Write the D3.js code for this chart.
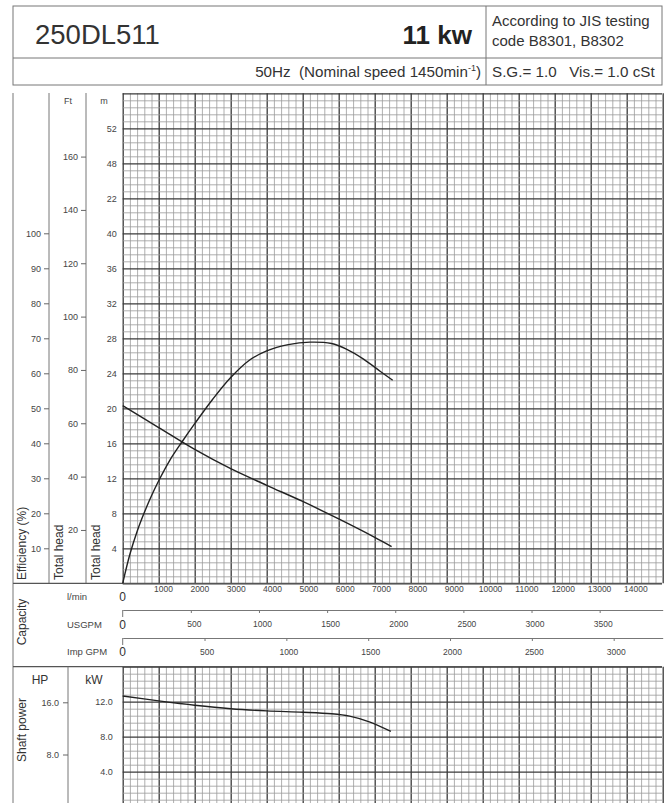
<!DOCTYPE html>
<html><head><meta charset="utf-8">
<script src="https://cdn.jsdelivr.net/npm/d3@7"></script>
<style>
html,body{margin:0;padding:0;background:#fff;}
svg{display:block;font-family:"Liberation Sans",Arial,sans-serif;}
</style></head><body>
<svg id="c" width="669" height="803"></svg>
<script>
// ---- data ----
const headQ   = [0, 1000, 2000, 3000, 4000, 5000, 6000, 7000, 7470];
const headM   = [20.3, 17.8, 15.3, 13.1, 11.2, 9.35, 7.35, 5.25, 4.2];
const effQ    = [0, 200, 400, 600, 800, 1000, 1300, 1640, 2000, 2500, 3000, 3500, 4000, 4600, 5200, 5800, 6200, 6700, 7150, 7500];
const effPct  = [0, 8.3, 14.8, 20.2, 25, 29.3, 35, 40.3, 45.6, 52.6, 58.8, 63.6, 66.4, 68.2, 68.9, 68.5, 67, 64, 60.6, 58];
const powQ    = [0, 1000, 2000, 3000, 4000, 5000, 5800, 6300, 6850, 7450];
const powKW   = [12.65, 12.1, 11.6, 11.2, 10.95, 10.8, 10.62, 10.35, 9.7, 8.6];

const headTicks  = [4, 8, 12, 16, 20, 24, 28, 32, 36, 40, 44, 48, 52];
const headLabels = ["4","8","12","16","20","24","28","32","36","40","22","48","52"];
const effTicks   = [10, 20, 30, 40, 50, 60, 70, 80, 90, 100];
const ftTicks    = [20, 40, 60, 80, 100, 120, 140, 160];
const lminTicks  = [1000,2000,3000,4000,5000,6000,7000,8000,9000,10000,11000,12000,13000,14000];
const usTicks    = [500,1000,1500,2000,2500,3000,3500];
const impTicks   = [500,1000,1500,2000,2500,3000];
const kwTicks    = [4, 8, 12];
const kwLabels   = ["4.0","8.0","12.0"];
const hpTicks    = [8, 16];
const hpLabels   = ["8.0","16.0"];

// unit conversions
const L_PER_USG = 3.78541, L_PER_IMP = 4.54609, M_PER_FT = 0.3048, KW_PER_HP = 0.7457;

// ---- layout ----
const X0 = 122.7, X1 = 662.7, RIGHT = 662;
const MB = 583.3, MT = 93.3;     // main plot bottom/top
const SB = 806.7, ST = 666.7;    // shaft power bottom/top (0..16 kW)
const FRAME_L = 13;

const svg = d3.select("#c");
const x    = d3.scaleLinear().domain([0, 15000]).range([X0, X1]);
const yH   = d3.scaleLinear().domain([0, 56]).range([MB, MT]);
const yEff = d3.scaleLinear().domain([0, 140]).range([MB, MT]);
const yFt  = d3.scaleLinear().domain([0, 56 / M_PER_FT]).range([MB, MT]);
const yKW  = d3.scaleLinear().domain([0, 16]).range([SB, ST]);
const yHP  = d3.scaleLinear().domain([0, 16 / KW_PER_HP]).range([SB, ST]);
const xUS  = d3.scaleLinear().domain([0, 15000 / L_PER_USG]).range([X0, X1]);
const xImp = d3.scaleLinear().domain([0, 15000 / L_PER_IMP]).range([X0, X1]);

const line = (x1,y1,x2,y2,w=1,c="#555") => svg.append("line")
  .attr("x1",x1).attr("y1",y1).attr("x2",x2).attr("y2",y2)
  .attr("stroke",c).attr("stroke-width",w);
const text = (t,x0,y0,opt={}) => {
  const e = svg.append("text").attr("x",x0).attr("y",y0).text(t)
    .attr("font-size",opt.size||10).attr("fill",opt.fill||"#333")
    .attr("text-anchor",opt.anchor||"start");
  if (opt.weight) e.attr("font-weight",opt.weight);
  if (opt.rot) e.attr("transform",`rotate(-90,${x0},${y0})`);
  return e;
};

// ---- header ----
svg.append("rect").attr("x",13).attr("y",6).attr("width",649).attr("height",79)
  .attr("fill","none").attr("stroke","#777").attr("stroke-width",1);
line(13,58,662,58,1,"#777");
line(486,6,486,85,1,"#777");
text("250DL511",35,44,{size:27.5,fill:"#333"});
text("11 kw",472,44,{size:26,weight:"bold",anchor:"end",fill:"#222"});
text("According to JIS testing",492,26,{size:15,fill:"#333"});
text("code B8301, B8302",492,46,{size:15,fill:"#333"});
const t2 = svg.append("text").attr("x",481).attr("y",77).attr("text-anchor","end")
  .attr("font-size",15.2).attr("fill","#333").attr("xml:space","preserve");
t2.append("tspan").text("50Hz  (Nominal speed 1450min");
t2.append("tspan").attr("dy",-6).attr("font-size",9).text("-1");
t2.append("tspan").attr("dy",6).text(")");
text("S.G.= 1.0   Vis.= 1.0 cSt",492,77,{size:15.2}).attr("xml:space","preserve");

// ---- grids ----
function drawGrid(yScale, top, bottom, yMax, yStep, yMajor) {
  const qMinor = d3.range(0, 15001, 200);
  const gv = svg.append("g").attr("transform",`translate(0,${bottom})`)
    .call(d3.axisBottom(x).tickValues(qMinor).tickSize(-(bottom-top)).tickFormat(""));
  gv.select(".domain").remove();
  gv.selectAll(".tick line")
    .attr("stroke", d => d % 1000 === 0 ? "#3a3a3a" : "#9a9a9a")
    .attr("stroke-width", d => d % 1000 === 0 ? 1.3 : 0.8);
  const vals = d3.range(0, Math.round(yMax/yStep)+1).map(i => +(i*yStep).toFixed(3));
  const gh = svg.append("g").attr("transform",`translate(${X0},0)`)
    .call(d3.axisLeft(yScale).tickValues(vals).tickSize(-(RIGHT-X0)).tickFormat(""));
  gh.select(".domain").remove();
  gh.selectAll(".tick line")
    .attr("stroke", (d,i) => i % yMajor === 0 ? "#3a3a3a" : "#9a9a9a")
    .attr("stroke-width", (d,i) => i % yMajor === 0 ? 1.3 : 0.8);
}
drawGrid(yH, MT, MB, 56, 0.8, 5);
drawGrid(yKW, ST, 803, 16, 0.8, 5);

// ---- frame lines ----
line(FRAME_L, 93, FRAME_L, 803, 1, "#777");
line(49, 93, 49, MB, 1, "#777");
line(86, 93, 86, MB, 1, "#777");
line(FRAME_L, MB, RIGHT, MB, 1.2, "#555");
line(FRAME_L, ST, RIGHT, ST, 1.2, "#555");
line(68, ST, 68, 803, 1, "#777");

// ---- left axes (main) ----
function styleAxis(g, size) {
  g.select(".domain").remove();
  g.selectAll("text").attr("font-size",size).attr("fill","#444")
    .attr("font-family","'Liberation Sans',Arial,sans-serif");
  g.selectAll(".tick line").attr("stroke","#666");
}
styleAxis(svg.append("g").attr("transform",`translate(${X0},0)`)
  .call(d3.axisLeft(yH).tickValues(headTicks).tickFormat((d,i)=>headLabels[i]).tickSize(0).tickPadding(6)), 9);
styleAxis(svg.append("g").attr("transform",`translate(49,0)`)
  .call(d3.axisLeft(yEff).tickValues(effTicks).tickSize(5).tickPadding(3)), 9);
styleAxis(svg.append("g").attr("transform",`translate(86,0)`)
  .call(d3.axisLeft(yFt).tickValues(ftTicks).tickSize(5).tickPadding(3)), 9);
text("Ft",68,104,{size:9,anchor:"middle",fill:"#444"});
text("m",104,104,{size:9,anchor:"middle",fill:"#444"});
text("Efficiency (%)",26,580,{size:12,rot:true,fill:"#333"});
text("Total head",63,580,{size:12,rot:true,fill:"#333"});
text("Total head",100,580,{size:12,rot:true,fill:"#333"});

// ---- capacity axes ----
const gl = svg.append("g").attr("transform",`translate(0,${MB})`)
  .call(d3.axisBottom(x).tickValues(lminTicks).tickSize(0).tickPadding(3).tickFormat(d3.format("d")));
styleAxis(gl, 8.5);
gl.selectAll("text").attr("dx", d => 4 + d/3000);
const gus = svg.append("g").attr("transform",`translate(0,610)`)
  .call(d3.axisBottom(xUS).tickValues(usTicks).tickSize(3).tickSizeOuter(0).tickPadding(8).tickFormat(d3.format("d")));
gus.selectAll("text").attr("font-size",8.5).attr("fill","#444").attr("dx",3);
gus.select(".domain").attr("stroke","#777");
gus.selectAll(".tick line").attr("stroke","#777");
const gimp = svg.append("g").attr("transform",`translate(0,638)`)
  .call(d3.axisBottom(xImp).tickValues(impTicks).tickSize(3).tickSizeOuter(0).tickPadding(8).tickFormat(d3.format("d")));
gimp.selectAll("text").attr("font-size",8.5).attr("fill","#444").attr("dx",2);
gimp.select(".domain").attr("stroke","#777");
gimp.selectAll(".tick line").attr("stroke","#777");
line(X0,610,X0,617,1,"#777");
line(X0,638,X0,645,1,"#777");
text("0",x(0),601,{size:12,anchor:"middle",fill:"#333"});
text("0",xUS(0),629,{size:12,anchor:"middle",fill:"#333"});
text("0",xImp(0),656,{size:12,anchor:"middle",fill:"#333"});
text("l/min",67,600,{size:9.5,fill:"#444"});
text("USGPM",67,628,{size:9.5,fill:"#444"});
text("Imp GPM",67,655,{size:9.5,fill:"#444"});
text("Capacity",26,622,{size:12,rot:true,anchor:"middle",fill:"#333"});

// ---- shaft power axes ----
styleAxis(svg.append("g").attr("transform",`translate(${X0},0)`)
  .call(d3.axisLeft(yKW).tickValues(kwTicks).tickFormat((d,i)=>kwLabels[i]).tickSize(0).tickPadding(10)), 9);
styleAxis(svg.append("g").attr("transform",`translate(68,0)`)
  .call(d3.axisLeft(yHP).tickValues(hpTicks).tickFormat((d,i)=>hpLabels[i]).tickSize(5).tickPadding(4)), 9);
text("HP",40,684,{size:12,anchor:"middle",fill:"#333"});
text("kW",94,684,{size:12,anchor:"middle",fill:"#333"});
text("Shaft power",26,730,{size:12,rot:true,anchor:"middle",fill:"#333"});

// ---- curves ----
const curve = (qs, vs, ys) => svg.append("path")
  .datum(qs.map((q,i)=>[q, vs[i]]))
  .attr("fill","none").attr("stroke","#222").attr("stroke-width",1.4)
  .attr("d", d3.line().x(d=>x(d[0])).y(d=>ys(d[1])).curve(d3.curveCatmullRom.alpha(0.5)));
curve(headQ, headM, yH);
curve(effQ, effPct, yEff);
curve(powQ, powKW, yKW);
</script>
</body></html>
